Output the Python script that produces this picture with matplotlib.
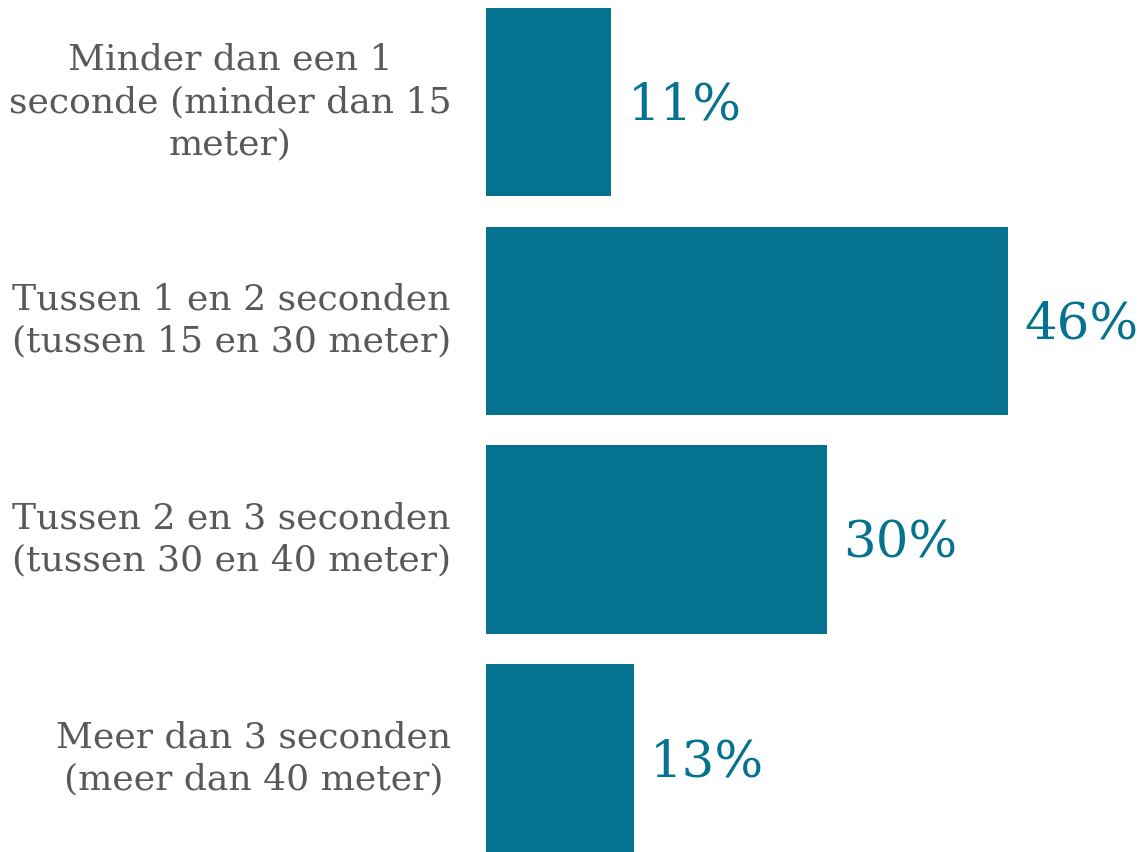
import matplotlib
matplotlib.use("Agg")
import matplotlib.pyplot as plt

categories = [
    "Minder dan een 1\nseconde (minder dan 15\nmeter)",
    "Tussen 1 en 2 seconden\n(tussen 15 en 30 meter)",
    "Tussen 2 en 3 seconden\n(tussen 30 en 40 meter)",
    "Meer dan 3 seconden\n(meer dan 40 meter)",
]
values = [11, 46, 30, 13]
value_labels = ["11%", "46%", "30%", "13%"]

BAR = "#05728F"
GRAY = "#595959"

fig = plt.figure(figsize=(11.45, 8.52), dpi=100)
ax = fig.add_axes([486 / 1145, 0, 1 - 486 / 1145, 1])
ypos = list(range(len(values)))
ax.barh(ypos, values, height=0.86, color=BAR)
ax.set_xlim(0, 58.06)
ax.set_ylim(3.428, -0.466)
ax.axis("off")

for y, v, lab in zip(ypos, values, value_labels):
    ax.annotate(lab, (v, y), xytext=(12, -3), textcoords="offset points",
                ha="left", va="center", fontsize=37, color=BAR,
                family="DejaVu Serif")

for y, cat in zip(ypos, categories):
    ax.annotate(cat, (0, y), xytext=(-25, 0), textcoords="offset points",
                ha="right", va="center", multialignment="center",
                fontsize=26, color=GRAY, family="DejaVu Serif",
                linespacing=1.3)

fig.savefig("out.png", dpi=100)
